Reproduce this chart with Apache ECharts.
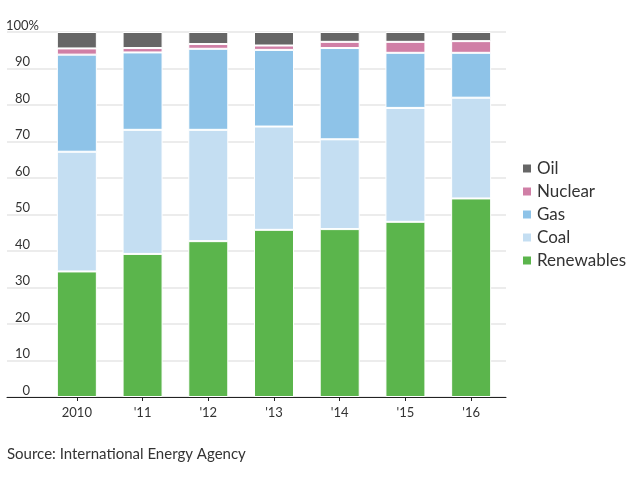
<!DOCTYPE html>
<html>
<head>
<meta charset="utf-8">
<script src="https://cdn.jsdelivr.net/npm/echarts@6/dist/echarts.min.js"></script>
<style>
html,body{margin:0;padding:0;background:#fff;}
#c{width:640px;height:484px;}
</style>
</head>
<body>
<div id="c"></div>
<script>
var categories = ['2010', "'11", "'12", "'13", "'14", "'15", "'16"];
var renewables = [34.4, 39.2, 42.7, 45.8, 46.0, 48.0, 54.4];
var coal       = [32.8, 34.0, 30.5, 28.3, 24.6, 31.2, 27.6];
var gas        = [26.6, 21.2, 22.2, 21.0, 25.0, 15.1, 12.3];
var nuclear    = [1.7, 1.2, 1.3, 1.2, 1.7, 3.0, 3.2];
var oil        = [4.5, 4.4, 3.3, 3.7, 2.7, 2.7, 2.5];
var yTicks = [0, 10, 20, 30, 40, 50, 60, 70, 80, 90, 100];
var sourceText = 'Source: International Energy Agency';

var FONT = 'Lato';
var colors = {
  Renewables: '#5bb54c',
  Coal: '#c4def2',
  Gas: '#8ec3e8',
  Nuclear: '#d07fa6',
  Oil: '#666666'
};

function barSeries(name, data) {
  return {
    name: name, type: 'bar', stack: 'total',
    xAxisIndex: 1, yAxisIndex: 1,
    data: data, barWidth: 40,
    itemStyle: { color: colors[name], borderColor: '#ffffff', borderWidth: 1 }
  };
}

var chart = echarts.init(document.getElementById('c'), null, { renderer: 'canvas' });
chart.setOption({
  animation: false,
  backgroundColor: '#ffffff',
  textStyle: { fontFamily: FONT },
  grid: [
    { left: 7, right: 134, top: 32, bottom: 87 },
    { left: 44, right: 136, top: 32, bottom: 87 }
  ],
  xAxis: [
    { type: 'value', gridIndex: 0, min: 0, max: 1, show: true,
      axisLine: { show: true, onZero: false, lineStyle: { color: '#222', width: 1 } },
      axisTick: { show: false }, axisLabel: { show: false }, splitLine: { show: false } },
    { type: 'category', gridIndex: 1, data: categories,
      axisLine: { show: false },
      axisTick: { show: true, alignWithLabel: true, length: 4, lineStyle: { color: '#222' } },
      axisLabel: { color: '#333', fontSize: 13, fontFamily: FONT, margin: 9 } }
  ],
  yAxis: [
    { type: 'value', gridIndex: 0, position: 'left', min: yTicks[0], max: yTicks[yTicks.length - 1], interval: 10,
      axisLine: { show: false }, axisTick: { show: false },
      splitLine: { show: true, lineStyle: { color: '#e6e6e6', width: 1.5 } },
      axisLabel: {
        inside: true, align: 'right', verticalAlign: 'bottom', margin: 23,
        color: '#333', fontSize: 13, fontFamily: FONT,
        formatter: function (v) { return v === 100 ? '' : String(v); }
      } },
    { type: 'value', gridIndex: 1, min: 0, max: 100, show: false, splitLine: { show: false } },
    { type: 'value', gridIndex: 0, position: 'left', offset: 0, min: 0, max: 100, interval: 100,
      axisLine: { show: false }, axisTick: { show: false }, splitLine: { show: false },
      axisLabel: {
        inside: true, align: 'right', verticalAlign: 'bottom', margin: 32,
        color: '#333', fontSize: 13, fontFamily: FONT,
        formatter: function (v) { return v === 100 ? '100%' : ''; }
      } }
  ],
  legend: {
    orient: 'vertical', left: 521, top: 160, padding: 0,
    itemWidth: 10, itemHeight: 10, itemGap: 6, icon: 'rect',
    data: ['Oil', 'Nuclear', 'Gas', 'Coal', 'Renewables'],
    textStyle: { color: '#333', fontSize: 17, fontFamily: FONT, lineHeight: 17 }
  },
  graphic: [
    { type: 'text', left: 7, top: 447,
      style: { text: sourceText, fill: '#333', fontSize: 15, fontFamily: FONT } }
  ],
  series: [
    barSeries('Renewables', renewables),
    barSeries('Coal', coal),
    barSeries('Gas', gas),
    barSeries('Nuclear', nuclear),
    barSeries('Oil', oil)
  ]
});
</script>
</body>
</html>
